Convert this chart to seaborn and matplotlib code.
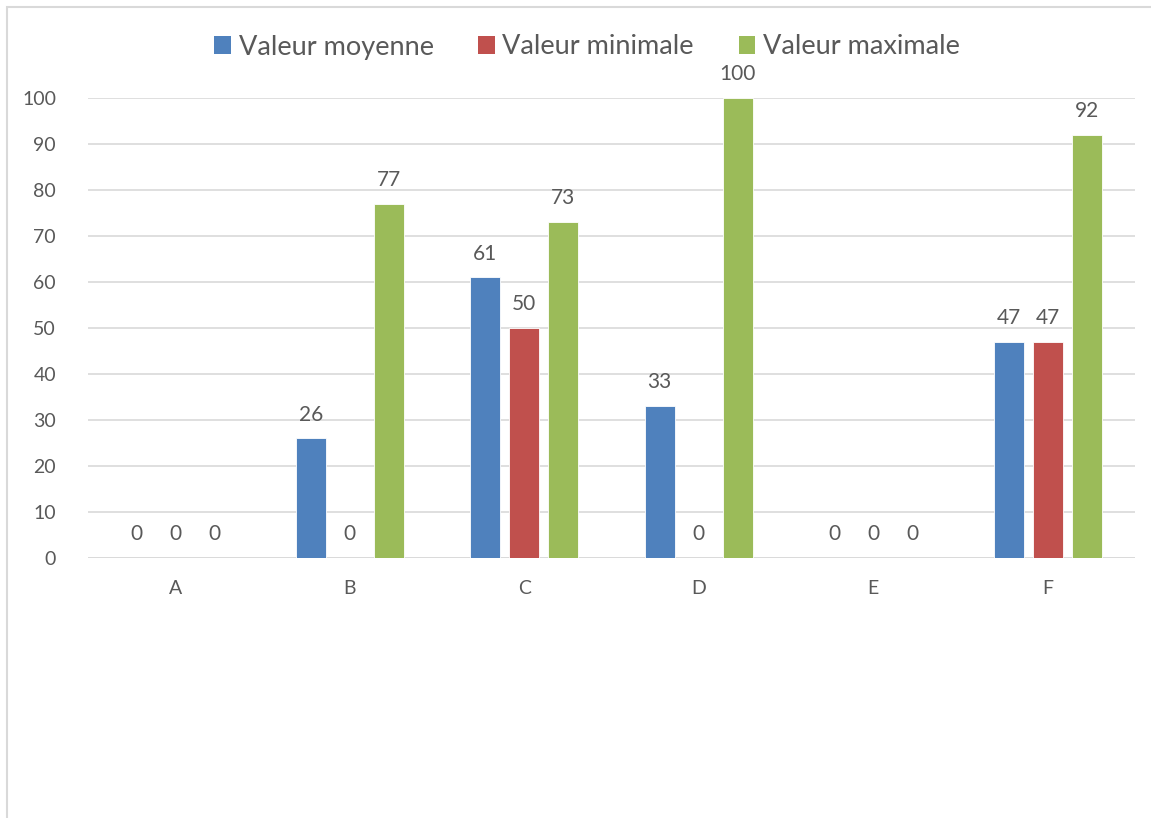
import numpy as np
import pandas as pd
import matplotlib
matplotlib.use("Agg")
import matplotlib.pyplot as plt
from matplotlib.patches import Rectangle, Patch
import seaborn as sns

categories = ["A", "B", "C", "D", "E", "F"]
series_names = ["Valeur moyenne", "Valeur minimale", "Valeur maximale"]
valeur_moyenne = [0, 26, 61, 33, 0, 47]
valeur_minimale = [0, 0, 50, 0, 0, 47]
valeur_maximale = [0, 77, 73, 100, 0, 92]
colors = ["#4F81BD", "#C0504D", "#9BBB59"]

df = pd.DataFrame({
    "cat": categories * 3,
    "serie": [series_names[0]] * 6 + [series_names[1]] * 6 + [series_names[2]] * 6,
    "val": valeur_moyenne + valeur_minimale + valeur_maximale,
})

sns.set_theme(style="white")
plt.rcParams["font.family"] = ["Lato", "DejaVu Sans"]
text_color = "#595959"
grid_color = "#D9D9D9"

fig = plt.figure(figsize=(11.51, 8.18), dpi=100)
W, H = 1151, 818
ax = fig.add_axes([88 / W, 1 - 558 / H, (1135 - 88) / W, (558 - 98) / H])

sns.barplot(data=df, x="cat", y="val", hue="serie", order=categories,
            hue_order=series_names, palette=colors, width=0.67, gap=0.23,
            saturation=1, ax=ax, legend=False, errorbar=None,
            edgecolor="white", linewidth=0.6)

ax.set_ylim(0, 100)
ax.set_yticks(np.arange(0, 101, 10))
ax.set_xlim(-0.5, len(categories) - 0.5)
ax.set_xlabel("")
ax.set_ylabel("")
for s in ax.spines.values():
    s.set_visible(False)
ax.yaxis.grid(True, color=grid_color, linewidth=1.2)
ax.set_axisbelow(True)
ax.axhline(0, color=grid_color, linewidth=1.2, zorder=0.5)
ax.tick_params(axis="y", length=0, pad=23, labelsize=14, labelcolor=text_color)
ax.tick_params(axis="x", length=0, pad=16, labelsize=14, labelcolor=text_color)

for cont in ax.containers:
    ax.bar_label(cont, fmt="%g", padding=10, fontsize=15, color=text_color,
                 clip_on=False)

handles = [Patch(facecolor=c, edgecolor="none") for c in colors]
fig.legend(handles, series_names, loc="center", bbox_to_anchor=(587 / W, 1 - 47 / H),
           ncol=3, frameon=False, fontsize=19.5, handlelength=0.62, handleheight=0.62,
           handletextpad=0.27, columnspacing=1.65, labelcolor=text_color)

fig.patches.append(Rectangle((7 / W, -0.1), 1.2, 1 - 7.5 / H + 0.1,
                             transform=fig.transFigure, fill=False,
                             edgecolor=grid_color, linewidth=1.5))

fig.savefig("out.png", dpi=100)
